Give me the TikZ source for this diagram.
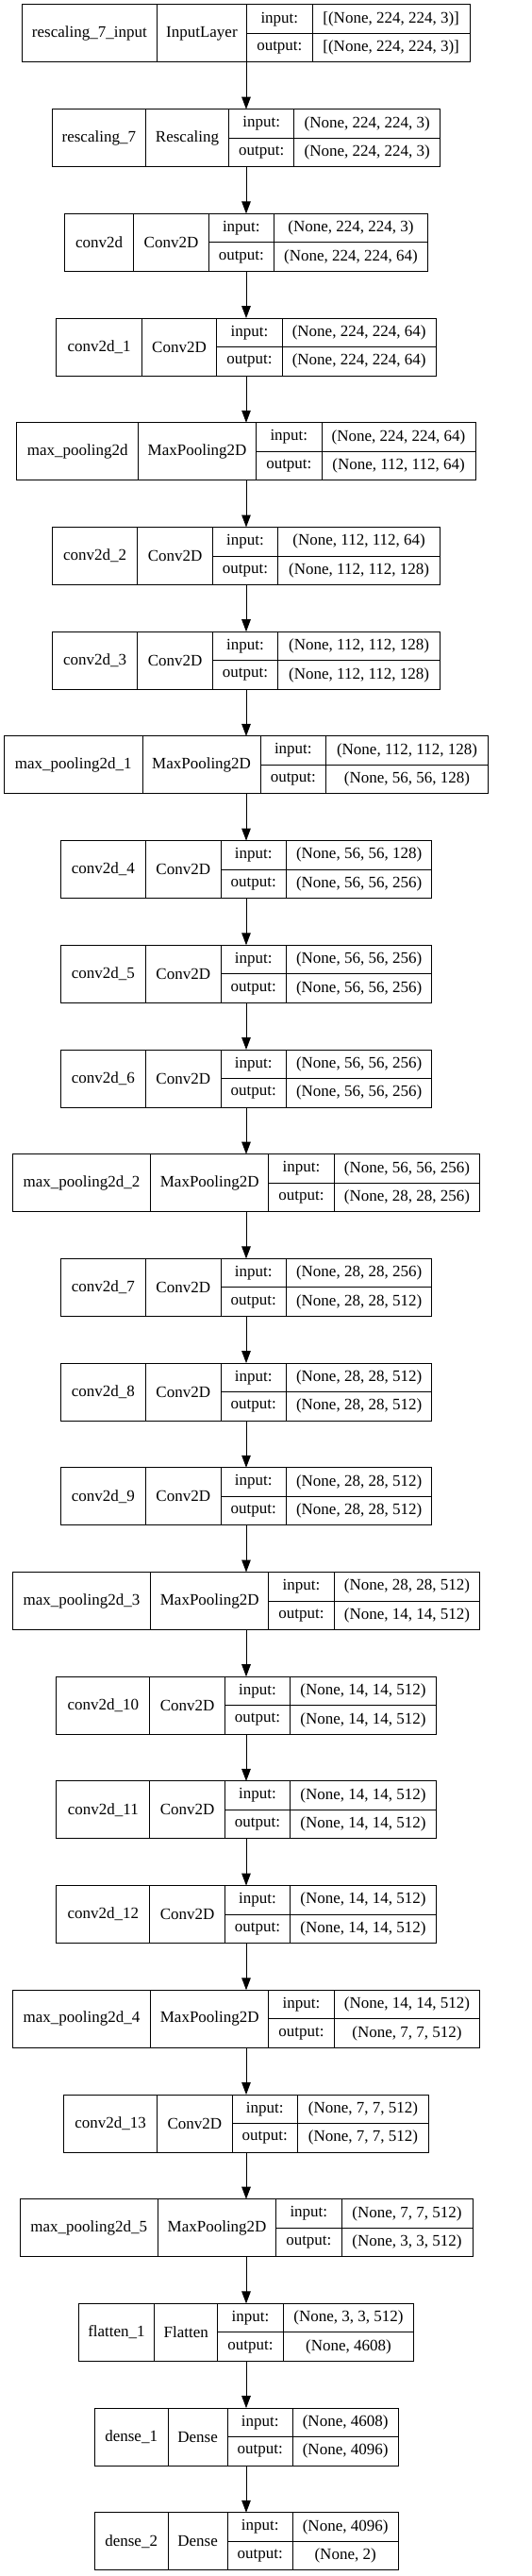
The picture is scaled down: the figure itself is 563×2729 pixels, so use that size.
\documentclass[tikz,border=0pt]{standalone}
\usepackage{fontspec}
\setmainfont{Liberation Serif}
\usetikzlibrary{arrows.meta}

\tikzset{
  cell/.style={draw, line width=1pt, inner sep=0pt, outer sep=0pt, minimum height=61pt,
    font=\fontsize{17}{20}\selectfont},
  half/.style={cell, minimum height=30.5pt},
  arr/.style={-{Triangle[length=13pt,width=9.5pt]}, line width=1pt}
}

\begin{document}
\begin{tikzpicture}[x=1pt,y=1pt]
  \useasboundingbox (0,0) rectangle (563,-2729);
  % one box per layer: name | class | input:/output: | shapes
  \foreach \i/\wname/\wcls/\wshape/\lname/\lcls/\shin/\shout in {
    1/142.4/95.6/167.3/{rescaling\_7\_input}/{InputLayer}/{[(None, 224, 224, 3)]}/{[(None, 224, 224, 3)]},
    2/99.3/88/155/{rescaling\_7}/{Rescaling}/{(None, 224, 224, 3)}/{(None, 224, 224, 3)},
    3/73.4/79.4/163.1/{conv2d}/{Conv2D}/{(None, 224, 224, 3)}/{(None, 224, 224, 64)},
    4/90.5/79.4/163.1/{conv2d\_1}/{Conv2D}/{(None, 224, 224, 64)}/{(None, 224, 224, 64)},
    5/128.6/125.2/163.1/{max\_pooling2d}/{MaxPooling2D}/{(None, 224, 224, 64)}/{(None, 112, 112, 64)},
    6/90.5/79.4/172/{conv2d\_2}/{Conv2D}/{(None, 112, 112, 64)}/{(None, 112, 112, 128)},
    7/90.5/79.4/172/{conv2d\_3}/{Conv2D}/{(None, 112, 112, 128)}/{(None, 112, 112, 128)},
    8/146.5/125.2/172/{max\_pooling2d\_1}/{MaxPooling2D}/{(None, 112, 112, 128)}/{(None, 56, 56, 128)},
    9/90.5/79.4/154.6/{conv2d\_4}/{Conv2D}/{(None, 56, 56, 128)}/{(None, 56, 56, 256)},
    10/90.5/79.4/154.6/{conv2d\_5}/{Conv2D}/{(None, 56, 56, 256)}/{(None, 56, 56, 256)},
    11/90.5/79.4/154.6/{conv2d\_6}/{Conv2D}/{(None, 56, 56, 256)}/{(None, 56, 56, 256)},
    12/146.5/125.2/154.6/{max\_pooling2d\_2}/{MaxPooling2D}/{(None, 56, 56, 256)}/{(None, 28, 28, 256)},
    13/90.5/79.4/154.6/{conv2d\_7}/{Conv2D}/{(None, 28, 28, 256)}/{(None, 28, 28, 512)},
    14/90.5/79.4/154.6/{conv2d\_8}/{Conv2D}/{(None, 28, 28, 512)}/{(None, 28, 28, 512)},
    15/90.5/79.4/154.6/{conv2d\_9}/{Conv2D}/{(None, 28, 28, 512)}/{(None, 28, 28, 512)},
    16/146.5/125.2/154.6/{max\_pooling2d\_3}/{MaxPooling2D}/{(None, 28, 28, 512)}/{(None, 14, 14, 512)},
    17/99.2/79.4/154.6/{conv2d\_10}/{Conv2D}/{(None, 14, 14, 512)}/{(None, 14, 14, 512)},
    18/99.2/79.4/154.6/{conv2d\_11}/{Conv2D}/{(None, 14, 14, 512)}/{(None, 14, 14, 512)},
    19/99.2/79.4/154.6/{conv2d\_12}/{Conv2D}/{(None, 14, 14, 512)}/{(None, 14, 14, 512)},
    20/146.5/125.2/154.6/{max\_pooling2d\_4}/{MaxPooling2D}/{(None, 14, 14, 512)}/{(None, 7, 7, 512)},
    21/99.2/79.4/139/{conv2d\_13}/{Conv2D}/{(None, 7, 7, 512)}/{(None, 7, 7, 512)},
    22/146.5/125.2/139/{max\_pooling2d\_5}/{MaxPooling2D}/{(None, 7, 7, 512)}/{(None, 3, 3, 512)},
    23/80.7/67/138.7/{flatten\_1}/{Flatten}/{(None, 3, 3, 512)}/{(None, 4608)},
    24/78.3/62.7/111.7/{dense\_1}/{Dense}/{(None, 4608)}/{(None, 4096)},
    25/78.3/62.7/111.7/{dense\_2}/{Dense}/{(None, 4096)}/{(None, 2)}} {
    \pgfmathsetmacro\wbox{\wname+\wcls+69.3+\wshape}
    \pgfmathsetmacro\yc{-(35.5+110.7*(\i-1))}
    \node[cell, minimum width=\wbox pt] (l\i) at (261,\yc) {};
    \node[cell, minimum width=\wname pt, anchor=west] (l\i-n) at (l\i.west) {\lname};
    \node[cell, minimum width=\wcls pt, anchor=west] (l\i-c) at (l\i-n.east) {\lcls};
    \node[half, minimum width=69.3pt, anchor=north west] (l\i-ik) at (l\i-c.north east) {input:};
    \node[half, minimum width=69.3pt, anchor=north west] (l\i-ok) at (l\i-ik.south west) {output:};
    \node[half, minimum width=\wshape pt, anchor=north west] (l\i-iv) at (l\i-ik.north east) {\shin};
    \node[half, minimum width=\wshape pt, anchor=north west] (l\i-ov) at (l\i-iv.south west) {\shout};
  }
  % edges
  \foreach \i [evaluate=\i as \j using int(\i+1)] in {1,...,24}
    \draw[arr] (l\i) -- (l\j);
\end{tikzpicture}
\end{document}
